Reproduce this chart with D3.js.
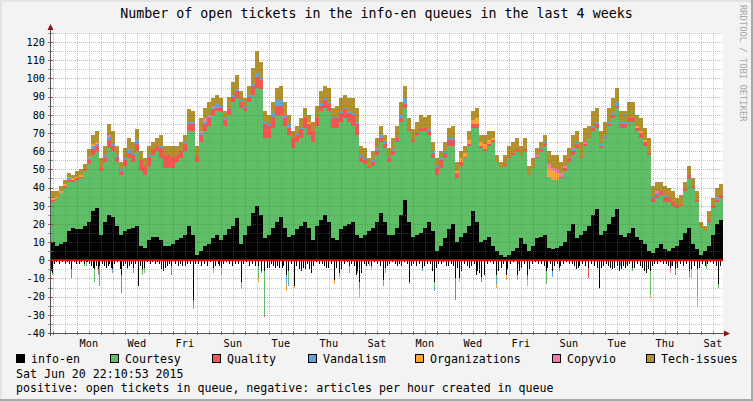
<!DOCTYPE html>
<html><head><meta charset="utf-8">
<script src="https://cdn.jsdelivr.net/npm/d3@7"></script>
<style>html,body{margin:0;padding:0;background:#f3f3f3}svg{display:block}</style>
</head><body><svg id="c" width="753" height="401"></svg>
<script>
const titleText = "Number of open tickets in the info-en queues in the last 4 weeks";
const dateText = "Sat Jun 20 22:10:53 2015";
const noteText = "positive: open tickets in queue, negative: articles per hour created in queue";
const watermark = "RRDTOOL / TOBI OETIKER";
const keys = ["info-en","Courtesy","Quality","Vandalism","Organizations","Copyvio","Tech-issues"];
const colors = ["#000000","#60BD68","#F15854","#5DA5DA","#FAA43A","#F17CB0","#B2912F"];
const yTickValues = [-40,-30,-20,-10,0,10,20,30,40,50,60,70,80,90,100,110,120];
const dayLabels = ["Mon","Wed","Fri","Sun","Tue","Thu","Sat","Mon","Wed","Fri","Sun","Tue","Thu","Sat"];
const endTime = new Date(2015,5,20,22,10,53);
const spanDays = 28;
const stepHours = 4;

// positive series: open tickets, one value per 4 hours
const infoEn = [10,8,9,10,16,18,17,17,19,21,27,29,14,21,25,24,19,14,16,17,18,19,8,7,11,13,13,11,8,8,9,11,12,14,19,14,3,5,8,9,12,14,
11,14,17,19,23,9,14,19,26,30,25,12,14,18,21,24,18,13,14,17,19,21,18,11,19,22,25,21,12,11,17,19,20,21,14,12,14,16,18,21,26,21,
14,14,18,25,33,21,13,14,15,18,21,16,5,8,12,17,20,10,13,15,19,27,21,10,11,13,8,5,3,2,3,5,7,12,9,5,8,12,13,14,7,6,
7,8,10,16,20,12,14,16,19,25,28,14,16,20,24,28,14,13,15,18,13,11,9,5,4,7,9,6,5,7,8,11,15,18,9,6,3,5,8,14,20,22];
const courtesy = [22,26,28,30,27,25,27,28,30,32,31,31,35,33,37,36,35,33,36,39,36,41,41,40,41,45,47,45,43,43,42,43,44,46,52,57,51,60,63,65,68,68,
71,60,63,68,66,75,68,68,65,65,69,55,53,55,59,56,56,56,48,48,48,52,51,54,55,60,59,61,61,62,59,59,56,53,55,42,39,35,34,37,39,41,
40,44,47,51,51,50,52,55,56,53,48,40,42,43,44,46,43,35,39,41,44,46,52,52,49,50,57,49,48,50,53,53,53,46,51,42,43,44,47,49,39,38,
37,37,39,38,38,50,42,47,48,46,45,48,51,54,54,56,59,60,61,58,58,56,54,53,28,27,27,26,27,23,21,19,23,27,31,26,15,11,13,15,12,12];
const quality = [1,0,0,1,1,1,1,1,1,2,3,3,2,3,4,3,3,2,3,3,4,4,6,5,5,3,3,6,7,7,6,4,4,4,4,4,3,4,4,4,3,2,
2,3,3,3,4,3,2,3,5,6,5,8,7,6,5,5,4,4,5,4,5,5,6,6,4,3,4,4,5,5,5,5,5,6,6,3,2,1,2,2,2,2,
2,2,2,2,2,1,1,1,2,2,2,3,4,4,3,3,3,3,2,1,1,2,2,1,1,1,1,0,0,1,1,1,1,0,1,0,0,1,1,1,0,0,
0,1,2,2,2,2,1,1,1,2,2,1,1,1,2,1,2,2,2,2,2,3,2,1,2,2,2,3,2,2,1,1,1,2,1,1,0,0,1,1,1,2];
const vandalism = [0,0,0,0,1,0,0,0,0,1,2,1,0,1,2,1,1,1,1,2,1,2,0,0,1,0,0,1,0,0,0,0,0,1,1,1,0,1,1,1,1,2,
1,1,1,1,1,1,1,1,1,2,1,1,1,2,3,3,2,2,0,1,1,1,0,0,1,1,1,1,1,1,1,1,1,1,1,1,1,0,1,1,2,1,
1,1,1,2,3,0,0,0,0,0,1,1,1,1,1,1,1,0,0,0,0,0,0,0,0,0,0,0,0,0,0,0,0,0,0,0,0,0,1,1,0,0,
0,0,0,0,1,1,0,0,0,1,1,1,1,1,1,2,1,1,1,1,0,0,0,0,1,1,0,1,0,0,0,0,0,0,0,0,0,0,0,0,1,0];
const organizations = [1,1,1,1,1,1,1,1,0,1,1,1,0,0,0,0,0,0,0,0,0,0,0,0,0,0,0,0,0,0,0,0,0,0,0,0,0,0,0,0,0,0,
0,0,0,0,0,0,0,0,0,0,0,0,0,0,0,0,0,0,0,0,0,0,1,0,0,0,0,0,0,0,0,0,0,0,0,0,0,0,0,0,0,0,
0,0,0,0,0,0,0,0,0,0,0,0,0,0,0,0,0,1,2,2,2,2,3,2,3,2,1,0,0,0,0,0,0,0,0,0,0,0,0,0,5,5,
4,0,0,0,0,0,0,0,0,0,0,0,0,0,0,0,0,0,0,0,1,1,1,0,0,0,0,0,0,0,0,0,0,0,0,0,0,0,0,0,0,0];
const copyvio = [0,0,0,0,0,0,0,0,0,0,0,0,0,0,1,0,0,0,0,0,0,0,0,0,0,0,0,0,0,0,0,0,0,0,0,0,0,1,2,1,1,0,
0,0,0,0,0,0,0,0,0,0,0,0,0,0,0,0,0,0,0,0,0,0,0,0,0,0,0,0,0,0,0,0,0,0,0,0,0,0,0,1,0,0,
0,0,0,0,0,0,0,0,0,0,0,0,0,0,0,0,0,0,0,0,0,0,0,0,0,0,0,0,0,0,0,0,0,0,0,0,0,1,0,0,2,2,
2,2,1,1,1,0,0,1,0,0,0,0,0,0,0,0,0,0,0,0,0,0,0,0,0,1,0,0,0,0,0,0,0,0,0,0,0,0,0,0,1,0];
const techIssues = [4,3,3,2,2,2,3,3,3,4,5,6,5,5,6,7,5,4,6,6,6,6,5,4,5,4,4,6,5,5,6,5,5,4,7,6,6,7,6,7,4,5,
4,4,6,7,8,5,4,5,9,12,9,6,5,6,7,8,7,5,4,4,5,5,4,5,6,7,7,8,5,6,7,7,7,8,8,5,6,4,5,5,5,4,
5,6,6,7,7,6,6,6,7,6,8,5,4,4,5,6,7,5,4,4,5,5,6,4,5,5,4,4,3,5,6,6,6,5,6,5,5,4,3,4,7,7,
8,6,6,5,7,6,8,8,6,8,8,7,7,8,8,8,6,6,8,8,6,7,7,8,6,5,5,5,6,6,4,5,4,5,4,5,3,3,5,4,5,6];

// negative series: articles created per hour, [hour since start, count]
const negInfoEn = [[0,6],[1,7],[3,2],[5,1],[8,2],[11,1],[14,2],[16,1],[18,2],[20,5],[23,1],[25,2],[28,2],[30,1],[33,2],[35,1],[36,1],[38,2],[40,3],[42,4],[43,5],[45,3],[47,5],[48,3],[51,2],[53,3],[55,4],[57,3],[58,2],[60,4],[61,5],[63,2],[66,1],[69,5],[70,8],[72,3],[74,2],[76,4],[78,3],[80,2],[82,4],[84,2],[87,14],[89,3],[91,5],[93,4],[96,1],[99,2],[101,1],[104,2],[106,1],[108,2],[110,5],[112,6],[114,4],[116,3],[118,2],[120,3],[124,2],[127,3],[129,2],[131,3],[134,3],[136,2],[139,2],[142,22],[144,2],[147,2],[150,3],[153,2],[156,3],[159,1],[162,4],[164,3],[167,2],
[168,3],[170,4],[172,2],[175,1],[178,2],[181,3],[184,2],[187,2],[190,12],[192,2],[195,1],[198,3],[201,2],[204,3],[207,3],[210,6],[213,6],[216,4],[218,4],[220,2],[222,3],[224,4],[226,3],[228,4],[231,4],[232,3],[235,8],[237,6],[240,2],[243,14],[245,3],[248,5],[250,6],[252,4],[254,5],[256,2],[258,5],[260,7],[262,3],[265,1],[268,2],[271,2],[273,3],[275,4],[277,4],[280,2],[283,11],[285,4],[288,7],[290,5],[293,2],[296,1],[298,3],[300,2],[303,3],[305,8],[306,6],[308,12],[310,7],[313,2],[315,3],[317,2],[320,3],[323,1],[326,2],[329,3],[332,11],[334,4],
[336,3],[338,2],[341,1],[344,2],[346,3],[348,2],[350,3],[353,1],[356,2],[358,12],[360,3],[362,2],[365,3],[368,2],[371,4],[373,3],[376,2],[379,2],[381,6],[383,12],[385,4],[387,2],[390,2],[392,1],[395,3],[397,3],[400,2],[402,3],[404,10],[406,4],[408,10],[410,6],[413,2],[416,3],[418,4],[420,3],[423,2],[425,8],[426,6],[428,7],[430,9],[433,8],[436,2],[439,1],[442,2],[445,8],[447,6],[450,4],[452,2],[455,8],[456,5],[459,2],[462,1],[466,8],[468,6],[470,4],[473,2],[476,8],[478,5],[481,2],[484,1],[487,2],[490,2],[493,3],[495,6],[496,4],[499,2],[501,6],[503,3],
[506,2],[508,4],[509,3],[512,2],[515,1],[518,2],[521,2],[523,3],[525,5],[527,4],[528,3],[531,2],[534,3],[537,4],[540,2],[543,3],[546,4],[548,15],[550,4],[552,3],[555,2],[557,3],[559,4],[561,5],[563,4],[566,3],[568,6],[570,5],[572,3],[574,4],[576,3],[578,2],[581,4],[583,4],[586,2],[589,3],[591,4],[593,6],[595,7],[597,5],[599,6],[601,3],[603,2],[606,2],[609,1],[612,2],[615,2],[617,3],[619,4],[621,3],[624,5],[626,4],[629,2],[632,3],[635,2],[638,6],[640,5],[643,3],[646,5],[648,4],[651,2],[654,3],[656,2],[659,1],[662,2],[665,3],[667,13],[669,3]];
const negCourtesy = [[1,1],[33,1],[35,2],[43,7],[48,11],[91,3],[93,3],[190,4],[207,7],[213,24],[237,6],[298,4],[318,3],[320,2],[332,3],[334,3],[383,3],[445,2],[466,3],[495,7],[508,2],[581,2],[599,13],[638,3],[646,15],[655,5],[667,2]];
const negQuality = [[20,5],[47,2],[70,10],[120,5],[142,2],[213,1],[308,4],[404,12],[430,3],[467,2],[476,3],[537,6],[620,3],[624,3]];
const negVandalism = [[47,1],[61,2],[82,3],[142,3],[170,1],[235,5],[237,2],[358,1],[371,2],[383,2],[445,3],[501,3],[569,3]];
const negOrganizations = [[76,1],[170,1],[207,2],[235,4],[243,1],[283,2],[288,2],[308,4],[408,2],[445,2],[455,3],[476,3],[548,1],[575,2],[599,2],[625,2],[640,5],[646,5]];
const negCopyvio = [[162,3],[170,2],[619,3]];
const negTechIssues = [[169,1],[210,1],[306,1]];

const W = 753, H = 401, L = 51, R = 723, T = 33, B = 333;
const HOUR = 3600e3;
const start = new Date(endTime.getTime() - spanDays * 24 * HOUR);
const x = d3.scaleTime().domain([start, endTime]).range([L, R]);
const y = d3.scaleLinear().domain([-40, 125]).range([B, T]);
const font = "DejaVu Sans Mono";
const svg = d3.select("#c");

// background and shading
svg.append("rect").attr("width", W).attr("height", H).attr("fill", "#f3f3f3");
svg.append("rect").attr("x", 0).attr("y", 0).attr("width", W).attr("height", 2).attr("fill", "#e4e4e4");
svg.append("rect").attr("x", 0).attr("y", 0).attr("width", 2).attr("height", H).attr("fill", "#e4e4e4");
svg.append("rect").attr("x", 0).attr("y", H - 2).attr("width", W).attr("height", 2).attr("fill", "#a8a8a8");
svg.append("rect").attr("x", W - 2).attr("y", 0).attr("width", 2).attr("height", H).attr("fill", "#a8a8a8");
svg.append("rect").attr("x", L).attr("y", T).attr("width", R - L).attr("height", B - T).attr("fill", "#ffffff");

// positive stacked steps
const posSeries = [infoEn, courtesy, quality, vandalism, organizations, copyvio, techIssues];
const n = infoEn.length;
const rows = d3.range(n + 1).map(i => {
  const j = Math.min(i, n - 1);
  const row = { t: new Date(start.getTime() + i * stepHours * HOUR) };
  keys.forEach((k, s) => row[k] = posSeries[s][j]);
  return row;
});
const stacked = d3.stack().keys(keys)(rows);
const area = d3.area()
  .x(d => x(d.data.t))
  .y0(d => y(d[0]))
  .y1(d => y(d[1]))
  .curve(d3.curveStepAfter);
const plot = svg.append("g").attr("shape-rendering", "crispEdges");
plot.selectAll("path.pos").data(stacked).join("path")
  .attr("class", "pos").attr("fill", (d, i) => colors[i]).attr("d", area);

// negative stacked hourly bars
const negSeries = [negInfoEn, negCourtesy, negQuality, negVandalism, negOrganizations, negCopyvio, negTechIssues];
const cum = new Map();
negSeries.forEach((list, s) => {
  list.forEach(([h, v]) => {
    const base = cum.get(h) || 0;
    const t0 = new Date(start.getTime() + h * HOUR), t1 = new Date(start.getTime() + (h + 1) * HOUR);
    plot.append("rect")
      .attr("x", x(t0)).attr("width", Math.max(1, x(t1) - x(t0)))
      .attr("y", y(-base)).attr("height", y(-(base + v)) - y(-base))
      .attr("fill", colors[s]);
    cum.set(h, base + v);
  });
});

// grid (drawn over data, like rrdtool)
const grid = svg.append("g");
const minorCol = "rgba(120,120,120,0.40)", majorCol = "rgba(225,40,40,0.42)";
const hVals = d3.range(-40, 126, 5);
hVals.forEach(v => {
  const yy = Math.round(y(v)) + 0.5;
  grid.append("line").attr("x1", L).attr("x2", R).attr("y1", yy).attr("y2", yy)
    .attr("stroke", v % 10 === 0 ? majorCol : minorCol).attr("stroke-dasharray", "1,1");
});
const halfDays = d3.timeHour.range(start, endTime).filter(d => d.getHours() % 12 === 0 && d.getMinutes() === 0);
halfDays.forEach(d => {
  const xx = Math.round(x(d)) + 0.5;
  grid.append("line").attr("x1", xx).attr("x2", xx).attr("y1", T).attr("y2", B)
    .attr("stroke", d.getHours() === 0 ? majorCol : minorCol).attr("stroke-dasharray", "1,1");
  grid.append("line").attr("x1", xx).attr("x2", xx).attr("y1", B - 2).attr("y2", B + 2)
    .attr("stroke", d.getHours() === 0 ? "rgba(200,40,40,0.8)" : "rgba(120,120,120,0.7)");
});
hVals.forEach(v => {
  const yy = Math.round(y(v)) + 0.5;
  grid.append("line").attr("x1", L - 3).attr("x2", L + 2).attr("y1", yy).attr("y2", yy)
    .attr("stroke", v % 10 === 0 ? "rgba(200,40,40,0.8)" : "rgba(120,120,120,0.7)");
});

// zero rule
svg.append("line").attr("x1", L).attr("x2", R).attr("y1", y(0)).attr("y2", y(0))
  .attr("stroke", "#ff0000").attr("stroke-width", 2);

// axes
const axisCol = "#555555", arrowCol = "#8b1010";
svg.append("line").attr("x1", L - 0.5).attr("x2", L - 0.5).attr("y1", B + 3).attr("y2", T - 4)
  .attr("stroke", axisCol).attr("stroke-width", 1);
svg.append("line").attr("x1", L - 3).attr("x2", R + 2).attr("y1", B + 0.5).attr("y2", B + 0.5)
  .attr("stroke", axisCol).attr("stroke-width", 1);
svg.append("path").attr("d", `M${L - 3.5},${T - 3}L${L + 2.5},${T - 3}L${L - 0.5},${T - 9}Z`).attr("fill", arrowCol);
svg.append("path").attr("d", `M${R + 1},${B - 2.5}L${R + 1},${B + 3.5}L${R + 7},${B + 0.5}Z`).attr("fill", arrowCol);

// y labels
svg.append("g").selectAll("text").data(yTickValues).join("text")
  .attr("x", 45).attr("y", d => y(d) + 3.8).attr("text-anchor", "end")
  .attr("font-family", font).attr("font-size", 10.2).attr("fill", "#000")
  .text(d => d);

// x labels (noon of every second day starting Monday)
const firstLabel = new Date(start.getFullYear(), start.getMonth(), start.getDate() + 2, 12);
svg.append("g").selectAll("text").data(dayLabels).join("text")
  .attr("x", (d, i) => x(d3.timeDay.offset(firstLabel, 2 * i)))
  .attr("y", 347).attr("text-anchor", "middle")
  .attr("font-family", font).attr("font-size", 10.2).attr("fill", "#000")
  .text(d => d);

// title
svg.append("text").attr("x", W / 2).attr("y", 18).attr("text-anchor", "middle")
  .attr("font-family", font).attr("font-size", 13.3).attr("fill", "#000").text(titleText);

// watermark
svg.append("text").attr("transform", "translate(740,5) rotate(90)")
  .attr("font-family", font).attr("font-size", 8.8).attr("fill", "#a8a8a8").text(watermark);

// legend
const legendX = [16, 110, 212, 308, 415, 552, 646];
const lg = svg.append("g");
keys.forEach((k, i) => {
  lg.append("rect").attr("x", legendX[i] + 0.5).attr("y", 354.5).attr("width", 8).attr("height", 8)
    .attr("fill", colors[i]).attr("stroke", "#000").attr("stroke-width", 1);
  lg.append("text").attr("x", legendX[i] + 15).attr("y", 363)
    .attr("font-family", font).attr("font-size", 11.6).attr("fill", "#000").text(k);
});
svg.append("text").attr("x", 16).attr("y", 377.5).attr("font-family", font).attr("font-size", 11.6).attr("fill", "#000").text(dateText);
svg.append("text").attr("x", 16).attr("y", 391.5).attr("font-family", font).attr("font-size", 11.6).attr("fill", "#000").text(noteText);
</script>
</body></html>
